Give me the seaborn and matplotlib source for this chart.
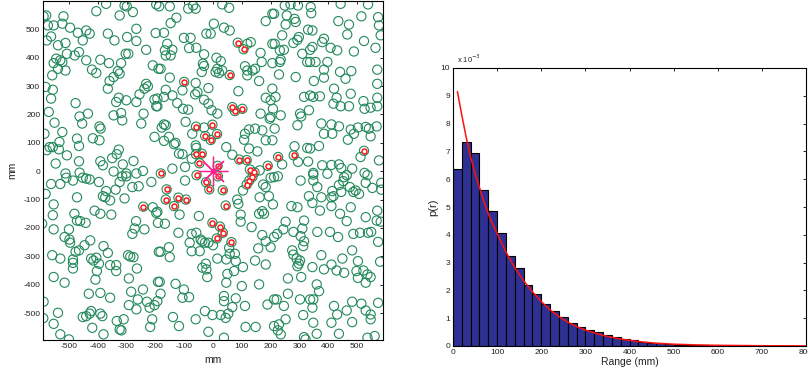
import numpy as np
import pandas as pd
import matplotlib
matplotlib.use("Agg")
import matplotlib.pyplot as plt
import seaborn as sns
from matplotlib.ticker import FuncFormatter

sns.set_theme(style="white")
plt.rcParams["font.family"] = ["Liberation Sans", "DejaVu Sans"]
plt.rcParams["axes.unicode_minus"] = False

# ---------------- left panel: point positions (mm) ----------------
pts_nw = [(-579,549),(-588,546),(-573,514),(-553,514),(-519,546),(-523,520),(-496,506),(-469,488),(-440,496),(-428,485),
(-452,461),(-405,564),(-371,590),(-307,584),(-299,581),(-324,549),(-278,561),(-197,588),(-199,487),(-266,502),
(-298,473),(-266,459),(-365,485),(-342,461),(-562,475),(-577,461),(-538,444),(-512,452),(-544,397),(-553,381),
(-530,391),(-523,385),(-507,414),(-480,408),(-465,420),(-440,391),(-391,393),(-361,381),(-319,381),(-303,414),
(-294,414),(-232,428),(-209,373),(-189,361),(-538,361),(-512,355),(-558,338),(-420,358),(-405,346),(-330,353),
(-324,344),(-345,332),(-359,318),(-365,291),(-232,308),(-226,299),(-238,291),(-255,271),(-581,297),(-556,287),
(-562,256),(-477,240),(-327,259),(-301,250),(-336,244),(-266,244),(-203,253),(-197,229),(-570,209),(-463,193),
(-434,203),(-345,197),(-319,205),(-315,179),(-241,203),(-550,171),(-454,168),(-394,158),(-390,150),(-249,168),
(-585,132),(-523,138),(-472,115),(-417,116),(-394,109),(-465,89),(-567,85),(-556,85),(-577,74),(-535,77),
(-533,103),(-203,121),(-327,76),(-334,60),(-350,46),(-507,56),(-546,27),(-465,35),(-391,35),(-382,21),
(-313,24),(-276,36),(-345,-1),(-301,-8),(-266,-8),(-243,1),(-463,-5),(-512,-8)]

pts_n = [(-187,581),(-150,581),(-86,573),(-69,584),(-60,573),(32,588),(56,576),(206,555),(183,529),(-127,541),
(-147,522),(3,520),(38,506),(58,496),(-170,488),(-101,470),(-78,470),(-23,485),(-8,485),(119,449),
(131,455),(206,449),(-159,449),(-167,426),(-141,428),(-147,408),(-164,408),(-83,434),(-58,435),(-31,412),
(12,400),(27,388),(15,361),(9,350),(21,346),(32,355),(-35,379),(-31,371),(-39,350),(111,370),
(119,355),(137,355),(146,361),(119,338),(165,417),(169,385),(206,381),(-182,361),(-150,330),(-60,311),
(-106,285),(-164,287),(-141,267),(-170,262),(-193,256),(-193,229),(-124,240),(-104,220),(-86,217),(-54,279),
(-62,271),(-16,293),(-31,252),(-16,238),(-5,215),(15,203),(88,282),(160,318),(183,259),(200,250),
(208,220),(165,203),(200,191),(197,185),(-95,174),(-170,165),(-178,154),(-164,162),(-31,154),(-72,132),
(-153,121),(-170,107),(-135,95),(-130,100),(-60,91),(-58,82),(46,85),(67,58),(125,80),(125,147),
(111,132),(108,111),(146,150),(171,144),(183,109),(206,109),(154,70),(-106,60),(-118,62),(-74,44),
(-97,15),(-141,9),(162,3)]

pts_ne = [(212,555),(249,584),(269,588),(295,584),(339,579),(341,557),(443,590),(538,588),(515,546),(573,543),
(576,514),(582,479),(256,549),(283,537),(287,526),(252,517),(240,479),(298,473),(330,499),(345,496),
(385,467),(379,455),(435,529),(472,517),(466,482),(524,459),(214,449),(246,428),(232,426),(279,452),
(293,463),(310,414),(337,428),(345,438),(408,435),(431,426),(489,422),(564,435),(235,393),(232,385),
(327,385),(337,385),(356,385),(397,385),(385,358),(229,341),(287,332),(350,318),(385,330),(441,350),
(480,353),(460,326),(570,358),(570,308),(206,291),(217,262),(235,197),(214,150),(302,203),(306,193),
(333,215),(293,162),(316,262),(337,267),(348,262),(371,264),(420,291),(478,273),(522,247),(570,259),
(429,259),(418,238),(443,229),(472,229),(526,220),(547,224),(570,229),(376,168),(411,165),(437,158),
(385,132),(414,132),(478,147),(503,154),(530,156),(541,150),(568,158),(468,111),(489,132),(547,123),
(283,88),(327,82),(337,80),(368,89),(240,24),(295,33),(330,34),(379,21),(411,22),(437,24),
(445,11),(483,9),(512,50),(576,38),(348,-6),(526,-6)]

pts_sw = [(-562,-45),(-530,-45),(-509,-23),(-486,-33),(-452,-23),(-440,-26),(-428,-29),(-396,-38),(-371,-70),(-382,-88),
(-374,-92),(-357,-103),(-338,-65),(-324,-38),(-315,-18),(-301,-18),(-280,-56),(-258,-53),(-214,-38),(-307,-96),
(-581,-80),(-553,-117),(-472,-92),(-593,-185),(-553,-205),(-556,-155),(-481,-150),(-472,-174),(-461,-176),(-442,-182),
(-411,-139),(-391,-150),(-353,-153),(-267,-176),(-272,-202),(-280,-221),(-238,-205),(-209,-127),(-197,-147),(-191,-182),
(-515,-232),(-500,-205),(-498,-241),(-496,-252),(-426,-244),(-446,-261),(-465,-279),(-477,-284),(-380,-264),(-365,-288),
(-558,-296),(-530,-308),(-486,-311),(-486,-323),(-486,-343),(-423,-308),(-415,-315),(-405,-305),(-396,-326),(-403,-352),
(-357,-331),(-336,-331),(-336,-352),(-295,-296),(-287,-301),(-276,-303),(-264,-343),(-188,-284),(-553,-373),(-515,-393),
(-408,-382),(-292,-378),(-431,-432),(-391,-429),(-357,-446),(-284,-425),(-243,-417),(-191,-390),(-261,-452),(-229,-460),
(-220,-481),(-203,-472),(-292,-472),(-266,-487),(-588,-460),(-538,-499),(-553,-538),(-452,-514),(-440,-511),(-428,-502),
(-423,-493),(-391,-502),(-384,-511),(-419,-552),(-380,-575),(-334,-528),(-310,-522),(-324,-558),(-318,-561),(-218,-549),
(-211,-522),(-530,-575),(-500,-593),(-589,-518)]

pts_s = [(-97,-33),(104,-68),(174,-47),(183,-56),(200,-23),(212,-21),(84,-100),(88,-115),(162,-92),(194,-88),
(208,-117),(171,-141),(177,-150),(160,-150),(96,-153),(96,-178),(-193,-143),(-167,-185),(-116,-153),(-49,-158),
(-120,-217),(-74,-221),(-58,-217),(-43,-241),(-37,-247),(-28,-252),(-16,-252),(0,-261),(-81,-252),(-74,-282),
(-46,-282),(-153,-268),(-182,-284),(-150,-303),(15,-308),(46,-311),(56,-270),(58,-291),(76,-291),(79,-317),
(104,-338),(134,-197),(171,-225),(183,-247),(200,-268),(157,-272),(146,-315),(183,-329),(-25,-326),(-37,-340),
(-23,-346),(-20,-373),(50,-362),(73,-352),(46,-393),(100,-405),(160,-399),(-185,-390),(-130,-397),(-101,-417),
(-106,-446),(-83,-444),(-182,-432),(-193,-458),(38,-440),(38,-458),(79,-448),(111,-475),(67,-479),(53,-502),
(44,-517),(27,-507),(-2,-507),(-28,-493),(-60,-522),(-139,-514),(-118,-546),(-16,-566),(38,-587),(113,-549),
(148,-549),(212,-546),(189,-470),(212,-452)]

pts_se = [(225,-18),(304,-33),(348,-12),(348,-33),(397,-9),(455,-21),(464,-14),(536,-14),(553,-59),(584,-41),
(584,-65),(362,-56),(414,-70),(418,-88),(411,-92),(445,-73),(437,-49),(452,-35),(475,-56),(487,-73),
(507,-80),(495,-68),(530,-41),(272,-123),(293,-127),(333,-88),(345,-112),(376,-92),(371,-139),(411,-123),
(441,-150),(478,-127),(464,-176),(530,-162),(570,-139),(568,-174),(582,-178),(252,-178),(316,-174),(244,-205),
(223,-221),(212,-232),(279,-214),(304,-229),(310,-202),(316,-247),(362,-214),(406,-214),(434,-232),(487,-221),
(510,-217),(538,-217),(549,-214),(573,-249),(275,-279),(279,-294),(313,-264),(290,-308),(302,-315),(298,-326),
(293,-335),(376,-296),(449,-308),(483,-279),(503,-317),(580,-319),(345,-338),(385,-346),(411,-329),(429,-350),
(455,-358),(498,-352),(522,-350),(503,-376),(536,-364),(547,-373),(530,-393),(260,-378),(306,-373),(360,-399),
(368,-423),(260,-432),(221,-452),(246,-475),(302,-452),(337,-452),(348,-452),(345,-481),(420,-475),(431,-505),
(464,-491),(483,-460),(515,-467),(530,-491),(547,-505),(573,-464),(252,-522),(229,-540),(225,-561),(235,-575),
(313,-507),(348,-534),(411,-534),(483,-532),(547,-522),(437,-573),(360,-573),(316,-585),(321,-593),(536,-587),
(561,-581)]

# points selected (drawn red inside their circles)
pts_selected = [(86,453),(106,430),(-100,315),(58,339),(67,226),(76,212),(102,220),(-59,157),(-2,164),(14,131),
(-27,124),(-8,110),(-59,60),(-39,62),(-47,28),(-57,-14),(16,19),(17,-18),(-24,-39),(-13,-64),
(34,-67),(91,41),(117,39),(128,6),(144,-4),(137,-20),(126,-33),(117,-47),(190,19),(226,50),
(280,56),(524,72),(-181,-8),(-161,-64),(-164,-100),(-120,-93),(-135,-123),(-94,-100),(-242,-125),(44,-121),
(-2,-182),(24,-195),(34,-217),(13,-237),(64,-250)]

centre = [(0, 0)]

# ---------------- right panel: histogram and fitted curve ----------------
bin_edges = list(range(0, 820, 20))
bin_heights = [6.35e-3, 7.35e-3, 6.95e-3, 5.60e-3, 4.85e-3, 4.05e-3, 3.22e-3, 2.82e-3, 2.20e-3, 1.88e-3,
               1.50e-3, 1.27e-3, 1.05e-3, 0.83e-3, 0.70e-3, 0.57e-3, 0.50e-3, 0.40e-3, 0.32e-3, 0.25e-3,
               0.20e-3, 0.16e-3, 0.12e-3, 0.09e-3, 0.07e-3, 0.05e-3, 0.04e-3, 0.03e-3, 0.02e-3, 0.015e-3,
               0.01e-3, 0.008e-3, 0.006e-3, 0.004e-3, 0.003e-3, 0.002e-3, 0.001e-3, 0.001e-3, 0.0005e-3, 0.0005e-3]
curve_r = [10, 20, 30, 40, 50, 60, 70, 80, 90, 100, 120, 140, 160, 180, 200, 220, 240, 260, 280, 300,
           340, 380, 420, 460, 500, 550, 600, 700, 800]
curve_p = [9.15e-3, 8.30e-3, 7.50e-3, 6.80e-3, 6.20e-3, 5.70e-3, 5.20e-3, 4.75e-3, 4.38e-3, 4.05e-3,
           3.38e-3, 2.82e-3, 2.35e-3, 1.95e-3, 1.60e-3, 1.30e-3, 1.06e-3, 0.86e-3, 0.70e-3, 0.57e-3,
           0.38e-3, 0.25e-3, 0.16e-3, 0.10e-3, 0.065e-3, 0.04e-3, 0.025e-3, 0.01e-3, 0.004e-3]

# ---------------- figure ----------------
fig = plt.figure(figsize=(8.08, 3.75), dpi=100)
ax1 = fig.add_axes([43/808, 35/375, 340/808, 339/375])
ax2 = fig.add_axes([453/808, 29/375, 353/808, 278/375])

all_pts = pts_nw + pts_n + pts_ne + pts_sw + pts_s + pts_se + pts_selected
df_all = pd.DataFrame(all_pts, columns=["x", "y"])
df_sel = pd.DataFrame(pts_selected, columns=["x", "y"])
df_c = pd.DataFrame(centre, columns=["x", "y"])

green = "#23895a"
sns.scatterplot(data=df_all, x="x", y="y", ax=ax1, marker="o", s=44,
                color=green, facecolor="none", edgecolor=green, linewidth=0.8, zorder=2)
sns.scatterplot(data=df_sel, x="x", y="y", ax=ax1, marker="o", s=13,
                color="#ff1a1a", facecolor="white", edgecolor="#ff1a1a", linewidth=1.1, zorder=3)
sns.scatterplot(data=df_c, x="x", y="y", ax=ax1, marker=(8, 2, 0), s=430,
                color="#ff1f8f", linewidth=0.9, zorder=4)

ax1.set_xlim(-590, 590)
ax1.set_ylim(-595, 600)
ax1.set_xticks(range(-500, 501, 100))
ax1.set_yticks(range(-500, 501, 100))
ax1.set_xlabel("mm", fontsize=7.5, color="#222222")
ax1.set_ylabel("mm", fontsize=7.5, color="#222222")

centers = [(bin_edges[i] + bin_edges[i + 1]) / 2 for i in range(len(bin_heights))]
df_h = pd.DataFrame({"r": centers, "p": bin_heights})
sns.histplot(data=df_h, x="r", weights="p", bins=bin_edges, stat="count", ax=ax2,
             color="#2e3192", edgecolor="black", linewidth=0.8, alpha=1.0)
df_curve = pd.DataFrame({"r": curve_r, "p": curve_p})
sns.lineplot(data=df_curve, x="r", y="p", ax=ax2, color="#ff1010", linewidth=1.1)

ax2.set_xlim(0, 800)
ax2.set_ylim(0, 0.01)
ax2.set_xticks(range(0, 801, 100))
ax2.set_yticks(np.arange(0, 11) * 1e-3)
ax2.yaxis.set_major_formatter(FuncFormatter(lambda v, _: f"{v * 1e3:.0f}"))
ax2.text(0.012, 1.012, r"x 10$^{-3}$", transform=ax2.transAxes, fontsize=5.5,
         color="#222222", ha="left", va="bottom")
ax2.set_xlabel("Range (mm)", fontsize=7.5, color="#222222", labelpad=1)
ax2.set_ylabel("p(r)", fontsize=8, color="#222222", labelpad=2)

for ax in (ax1, ax2):
    for sp in ax.spines.values():
        sp.set_visible(True)
        sp.set_color("black")
        sp.set_linewidth(0.8)
    ax.tick_params(direction="in", length=2.5, width=0.6, top=True, right=True,
                   labelsize=6, colors="black", labelcolor="#222222", pad=2)
    ax.grid(False)
    ax.set_facecolor("white")

fig.savefig("out.png", dpi=100, facecolor="white")
